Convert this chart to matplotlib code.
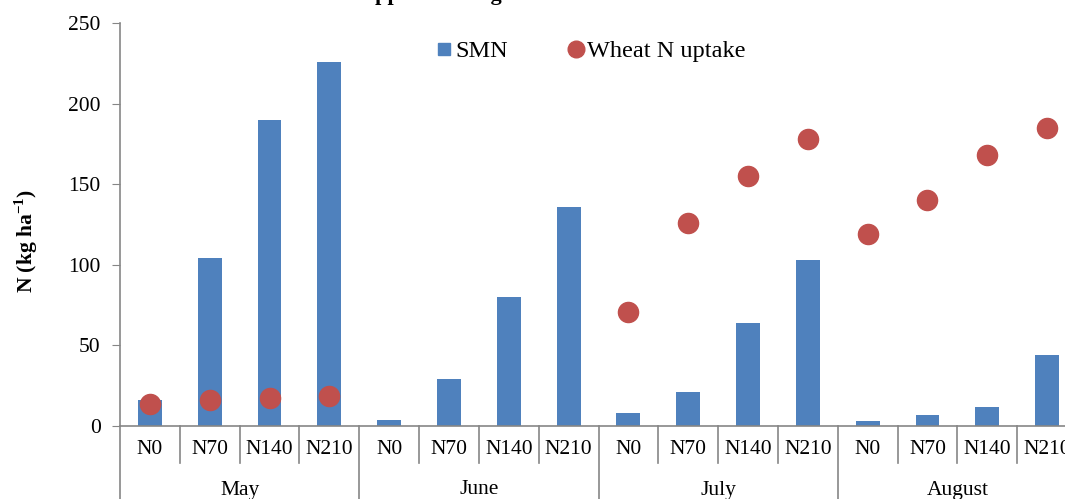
import matplotlib.pyplot as plt
from matplotlib.lines import Line2D
import numpy as np

plt.rcParams['font.family'] = ['Liberation Serif', 'DejaVu Serif']
plt.rcParams['mathtext.fontset'] = 'custom'
plt.rcParams['mathtext.bf'] = 'Liberation Serif:bold'
plt.rcParams['mathtext.rm'] = 'Liberation Serif'

months = ['May', 'June', 'July', 'August']
rates = ['N0', 'N70', 'N140', 'N210']
smn = [16, 104, 190, 226,
       4, 29, 80, 136,
       8, 21, 64, 103,
       3, 7, 12, 44]
uptake = [13.5, 16, 17.5, 18.5,
          np.nan, np.nan, np.nan, np.nan,
          71, 126, 155, 178,
          119, 140, 168, 185]

W, H = 1065, 499
fig = plt.figure(figsize=(W / 100, H / 100), dpi=100)
ax = fig.add_axes([120 / W, (H - 426) / H, (1077 - 120) / W, (426 - 23) / H])

grey = '#868686'
blue, red = '#4F81BD', '#C0504D'
x = np.arange(len(smn))
ax.bar(x, smn, width=0.4, color=blue, zorder=2)
ax.scatter(x, uptake, s=210, color=red, zorder=3)

ax.set_xlim(-0.5, len(smn) - 0.5)
ax.set_ylim(0, 250)
ax.set_yticks(range(0, 251, 50))
ax.tick_params(axis='y', labelsize=15.5, color=grey, length=6, direction='out', pad=8)
ax.set_xticks([])
for s in ['top', 'right']:
    ax.spines[s].set_visible(False)
for s in ['left', 'bottom']:
    ax.spines[s].set_color(grey)
    ax.spines[s].set_linewidth(1.2)

ax.set_ylabel('N (kg ha$^{\\mathbf{-1}}$)', fontsize=15.5, fontweight='bold')
ax.yaxis.set_label_coords(-80 / 957, (426 - 241) / 403)

# category axis drawn by hand: rate labels, month labels and divider lines
ah = 426 - 23
trans = ax.get_xaxis_transform()
for i in range(len(smn)):
    ax.text(i, -24 / ah, rates[i % 4], transform=trans, ha='center', va='center', fontsize=15.5)
for k in range(len(smn) + 1):
    depth = 90 if k % 4 == 0 else 37
    ax.plot([k - 0.5, k - 0.5], [0, -depth / ah], transform=trans, color=grey,
            lw=1.2, clip_on=False)
for j, m in enumerate(months):
    ax.text(j * 4 + 1.5, -64 / ah, m, transform=trans, ha='center', va='center', fontsize=15.5)

handles = [Line2D([], [], ls='none', marker='s', ms=8.5, color=blue),
           Line2D([], [], ls='none', marker='o', ms=12, color=red)]
ax.legend(handles, ['SMN', 'Wheat N uptake'], loc='upper center',
          bbox_to_anchor=(0.492, 1.01), ncol=2, frameon=False, handleheight=0.4,
          fontsize=17.5, handlelength=0.6, handletextpad=0.15, columnspacing=2.5)

fig.text(524 / W, 1 - 0.3 / H, 'Applied Nitrogen at different rates', ha='center',
         va='baseline', fontsize=16, fontweight='bold')

fig.savefig('out.png', dpi=100)
